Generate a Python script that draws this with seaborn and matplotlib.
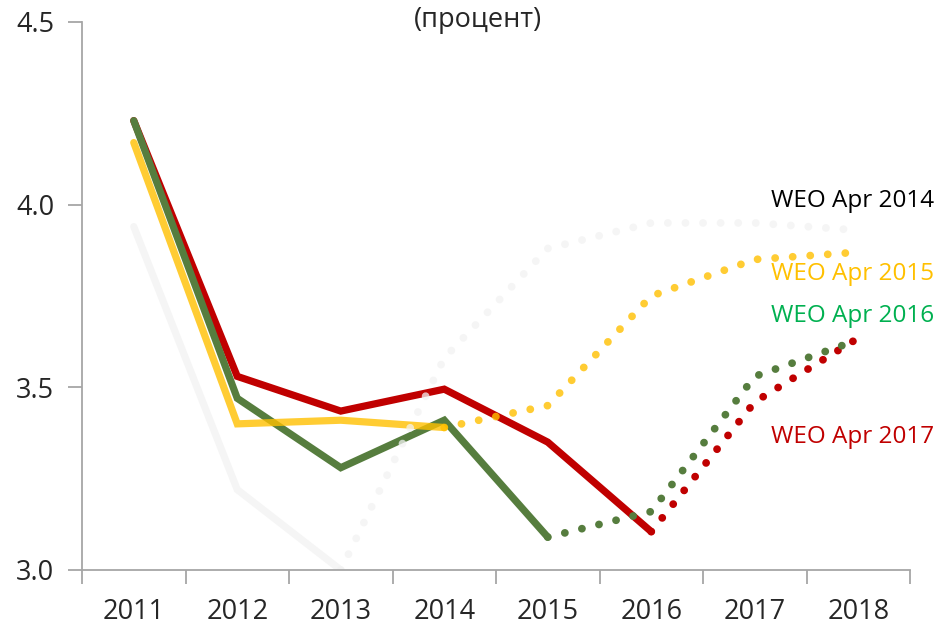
import matplotlib
matplotlib.use("Agg")
import matplotlib.pyplot as plt
import seaborn as sns
import pandas as pd

years = [2011, 2012, 2013, 2014, 2015, 2016, 2017, 2018]

# actual part (solid) and forecast part (dotted) of each WEO vintage
weo14_act = [3.94, 3.22, 3.00]
weo14_fc = [3.00, 3.58, 3.88, 3.95, 3.95, 3.93]
weo15_act = [4.17, 3.40, 3.41, 3.39]
weo15_fc = [3.39, 3.45, 3.75, 3.85, 3.87]
weo16_act = [4.23, 3.47, 3.28, 3.41, 3.09]
weo16_fc = [3.09, 3.16, 3.53, 3.63]
weo17_act = [4.23, 3.53, 3.435, 3.495, 3.35, 3.105]
weo17_fc = [3.105, 3.46, 3.635]

labels = ["WEO Apr 2014", "WEO Apr 2015", "WEO Apr 2016", "WEO Apr 2017"]
label_y = [4.01, 3.81, 3.695, 3.365]

sns.set_style("white")
plt.rcParams['font.family'] = ['Open Sans', 'DejaVu Sans']

fig = plt.figure(figsize=(9.4, 6.25), dpi=100)
ax = fig.add_axes([82/940, 55/625, 828/940, 548/625])

dot = (0, (0.01, 2.25))
series = [  # drawing order: bottom to top
    (weo17_act, weo17_fc, "#C00000", 1.0),
    (weo16_act, weo16_fc, "#567D3E", 1.0),
    (weo15_act, weo15_fc, "#FFC000", 0.8),
    (weo14_act, weo14_fc, "#F2F2F2", 0.75),
]
for act, fc, col, a in series:
    xa = list(range(len(act)))
    xf = list(range(len(act) - 1, len(act) - 1 + len(fc)))
    sns.lineplot(x=xa, y=act, ax=ax, color=col, alpha=a, lw=5.2,
                 solid_capstyle="round", solid_joinstyle="miter")
    sns.lineplot(x=xf, y=fc, ax=ax, color=col, alpha=a, lw=5.6,
                 linestyle=dot, dash_capstyle="round")

label_colors = ["#000000", "#FFC000", "#00B050", "#C00000"]
for txt, yy, c in zip(labels, label_y, label_colors):
    ax.text(7.73, yy, txt, color=c, fontsize=17.5, ha="right", va="center",
            clip_on=False)

ax.set_xlim(-0.5, 7.5)
ax.set_ylim(3.0, 4.5)
ax.set_yticks([3.0, 3.5, 4.0, 4.5])
ax.set_yticklabels(["3.0", "3.5", "4.0", "4.5"])
ax.set_xticks([i - 0.5 for i in range(len(years) + 1)])
ax.set_xticklabels([])
ax.set_xticks(range(len(years)), minor=True)
ax.set_xticklabels([str(y) for y in years], minor=True)

axis_grey = "#A6A6A6"
for side in ["top", "right"]:
    ax.spines[side].set_visible(False)
for side in ["left", "bottom"]:
    ax.spines[side].set_color(axis_grey)
    ax.spines[side].set_linewidth(1.3)
ax.tick_params(axis="y", which="major", direction="out", length=10,
               width=1.3, color=axis_grey, labelsize=19.5, pad=10, left=True)
ax.tick_params(axis="x", which="major", direction="out", length=10,
               width=1.3, color=axis_grey, bottom=True)
ax.tick_params(axis="x", which="minor", length=0, labelsize=19.5, pad=20)
ax.set_xlabel("")
ax.set_ylabel("")
if ax.get_legend():
    ax.get_legend().remove()

fig.text(478/940, 1 - 20/625, "(процент)", fontsize=19.5, ha="center", va="center")

fig.savefig("out.png", dpi=100)
